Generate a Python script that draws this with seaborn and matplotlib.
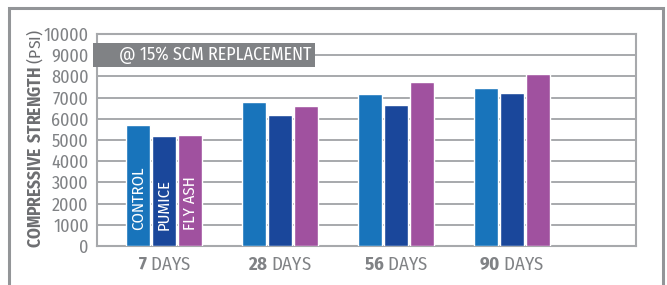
import matplotlib
matplotlib.use("Agg")
import matplotlib.pyplot as plt
from matplotlib.patches import Rectangle
import seaborn as sns
import pandas as pd

days = ["7", "28", "56", "90"]
mixes = ["CONTROL", "PUMICE", "FLY ASH"]
control = [5700, 6800, 7150, 7450]
pumice = [5200, 6200, 6650, 7200]
fly_ash = [5250, 6600, 7750, 8100]
colors = ["#1874bb", "#1a479b", "#a0519f"]

df = pd.DataFrame({
    "day": days * 3,
    "mix": [m for m in mixes for _ in days],
    "psi": control + pumice + fly_ash,
})

sns.set_style("white")
fam = "Fira Sans Condensed"
plt.rcParams["font.family"] = [fam, "DejaVu Sans"]
plt.rcParams["mathtext.fontset"] = "custom"
plt.rcParams["mathtext.rm"] = fam
plt.rcParams["mathtext.bf"] = fam + ":bold"

grey = "#808285"
line = "#a7a9ac"

fig = plt.figure(figsize=(6.67, 2.85), dpi=100)
ax = fig.add_axes([97 / 667, 39 / 285, 539 / 667, 212 / 285])

sns.barplot(data=df, x="day", y="psi", hue="mix", palette=colors,
            width=0.67, gap=0.05, saturation=1, legend=False, ax=ax, zorder=3)

ax.set_ylim(0, 10000)
ax.set_xlim(-0.578, 4.07)
ax.set_yticks(range(0, 10001, 1000))
ax.yaxis.grid(True, color=line, lw=1.4, zorder=0)
ax.set_axisbelow(True)
for s in ax.spines.values():
    s.set_color(line)
    s.set_linewidth(1.5)
ax.tick_params(length=0, labelsize=13, labelcolor=grey)
ax.tick_params(axis="y", pad=6)
ax.tick_params(axis="x", labelsize=13.5, pad=7)
ax.set_xticks(range(len(days)))
ax.set_xticklabels([rf"$\mathbf{{{d}}}$ DAYS" for d in days])
ax.set_xlabel("")
ax.set_ylabel("")

# labels inside the 7-day bars
first = sorted([p for p in ax.patches if abs(p.get_x() + p.get_width() / 2) < 0.4],
               key=lambda p: p.get_x())
for p, name in zip(first, mixes):
    ax.text(p.get_x() + p.get_width() / 2, 750, name, rotation=90, ha="center",
            va="bottom", color="white", fontsize=12, zorder=5)

# title box
ax.add_patch(Rectangle((-0.0074, 0.844), 0.412, 0.1135, transform=ax.transAxes,
                       facecolor=grey, edgecolor="none", clip_on=False, zorder=6))
ax.text(0.219, 0.9, "@ 15% SCM REPLACEMENT", transform=ax.transAxes, ha="center",
        va="center", color="white", fontsize=13, zorder=7)

fig.text(35 / 667, 1 - 139 / 285, r"$\mathbf{COMPRESSIVE\ STRENGTH}$ (PSI)",
         rotation=90, ha="center", va="center", color="#6d6e71", fontsize=12.5)

# outer frame
fig.patches.append(Rectangle((8.5 / 667, -0.1), 654.5 / 667, 1.1 - 8 / 285,
                             transform=fig.transFigure, fill=False,
                             edgecolor="#939598", lw=2.2, figure=fig))

fig.savefig("out.png", dpi=100, facecolor="white")
